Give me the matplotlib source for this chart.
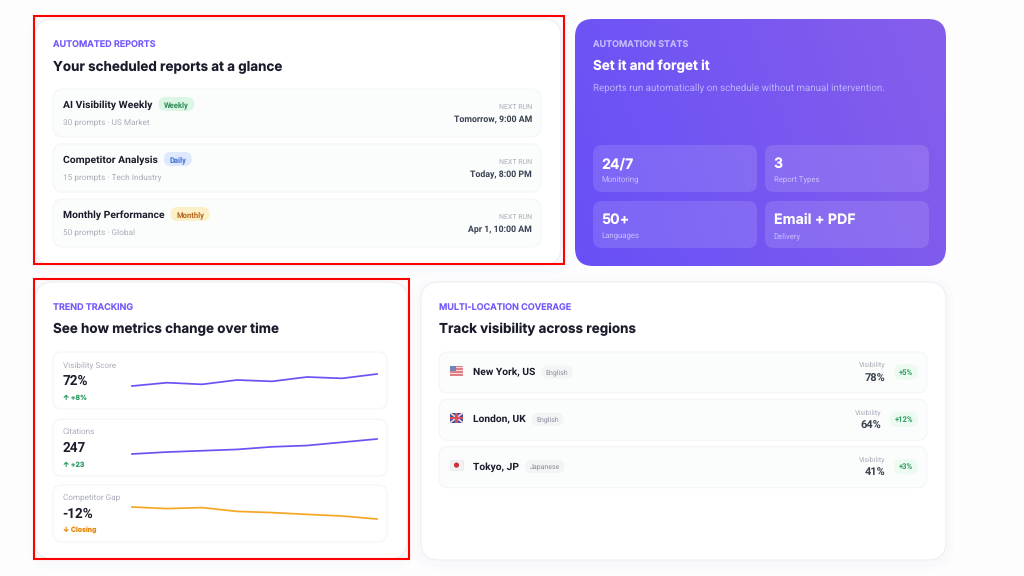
import numpy as np
import matplotlib
matplotlib.use('Agg')
import matplotlib.pyplot as plt
from matplotlib.patches import FancyBboxPatch, Rectangle, Circle

plt.rcParams['font.family'] = ['Inter', 'DejaVu Sans']
plt.rcParams['text.hinting'] = 'no_hinting'
plt.rcParams['text.hinting_factor'] = 8

# data
report_names = ['AI Visibility Weekly', 'Competitor Analysis', 'Monthly Performance']
report_tags = ['Weekly', 'Daily', 'Monthly']
report_meta = ['30 prompts · US Market', '15 prompts · Tech Industry', '50 prompts · Global']
report_runs = ['Tomorrow, 9:00 AM', 'Today, 8:00 PM', 'Apr 1, 10:00 AM']

stat_values = ['24/7', '3', '50+', 'Email + PDF']
stat_labels = ['Monitoring', 'Report Types', 'Languages', 'Delivery']

trend_names = ['Visibility Score', 'Citations', 'Competitor Gap']
trend_values = ['72%', '247', '-12%']
trend_changes = ['↑ +8%', '↑ +23', '↓ Closing']
visibility_series = [64, 66.2, 65.1, 68, 67.1, 70, 69.1, 72]
citations_series = [224, 227, 229, 231, 235, 237, 242, 247]
gap_series = [-6, -6.8, -6.3, -8.2, -8.8, -9.7, -10.5, -12]

cities = ['New York, US', 'London, UK', 'Tokyo, JP']
languages = ['English', 'English', 'Japanese']
city_visibility = ['78%', '64%', '41%']
city_change = ['+5%', '+12%', '+3%']

LABEL = '#7358fb'
DARK = '#1a1c2b'
GRAY = '#a9adb8'
PX = 0.72  # css px to pt at dpi 100
SMALL = ['Roboto', 'DejaVu Sans']

fig = plt.figure(figsize=(10.24, 5.76), dpi=100, facecolor='#fdfdfe')
ax = fig.add_axes([0, 0, 1, 1])
ax.set_xlim(0, 1024)
ax.set_ylim(576, 0)
ax.axis('off')
renderer = fig.canvas.get_renderer()


def box(x0, y0, x1, y1, r, fc, ec='none', lw=0.8, alpha=None, z=2):
    p = FancyBboxPatch((x0, y0), x1 - x0, y1 - y0, boxstyle='round,pad=0,rounding_size=%s' % r,
                       fc=fc, ec=ec, lw=lw, alpha=alpha, zorder=z)
    ax.add_patch(p)
    return p


def txt(x, y, s, px, color=DARK, weight='normal', ha='left', family=None):
    return ax.text(x, y, s, fontsize=px * PX, color=color, fontweight=weight, ha=ha,
                   va='baseline', zorder=5, family=family or SMALL)


def width(t):
    return t.get_window_extent(renderer).width


def head(x, y, label, title, label_color=LABEL, title_color=DARK):
    txt(x, y + 0.7, label, 9.0, label_color, 'semibold', family=['Inter'])
    txt(x, y + 23.3, title, 13.45, title_color, 'bold', family=['Inter'])


def card(x0, y0, x1, y1, label, title):
    for grow, a in [(8, 0.006), (4, 0.008)]:
        box(x0 - grow, y0 - grow + 3, x1 + grow, y1 + grow + 3, 18 + grow, '#5a5f8c', alpha=a, z=1)
    box(x0, y0, x1, y1, 18, 'white', '#f0f1f5', 1.0)
    head(x0 + 18, y0 + 28, label, title)


# --- scheduled reports
card(35, 19, 561, 265, 'AUTOMATED REPORTS', 'Your scheduled reports at a glance')
tag_styles = [('#dcf6e6', '#2f8a57'), ('#dfe9fd', '#3f6fd8'), ('#fdf0c8', '#b5651d')]
for i, name in enumerate(report_names):
    top = 89 + 55 * i
    box(53, top, 541, top + 48, 10, '#fbfcfc', '#f4f5f7')
    t = txt(63, top + 19, name, 10.4, DARK, 'bold')
    left = 63 + width(t) + 6
    tt = txt(left + 5.5, top + 18.5, report_tags[i], 7.6, tag_styles[i][1], 'bold')
    box(left, top + 8, left + width(tt) + 11, top + 22, 7, tag_styles[i][0], z=3)
    txt(63, top + 35.5, report_meta[i], 8.3, GRAY)
    txt(532, top + 21, 'NEXT RUN', 7.0, GRAY, ha='right')
    txt(532, top + 33, report_runs[i], 8.8, '#374151', 'bold', ha='right')

# --- purple stats card
panel = box(575, 19, 946, 266, 18, 'none', z=2)
xx, yy = np.meshgrid(np.linspace(0, 1, 200), np.linspace(0, 1, 130))
ramp = 1.0 - (xx * 0.8 + (1 - yy) * 0.2)
c0 = np.array([134, 94, 235]) / 255
c1 = np.array([104, 80, 247]) / 255
grad = c0 + (c1 - c0) * np.clip(ramp, 0, 1)[..., None]
im = ax.imshow(grad, extent=(575, 946, 266, 19), aspect='auto', zorder=2, interpolation='bilinear')
im.set_clip_path(panel)
ax.set_xlim(0, 1024)
ax.set_ylim(576, 0)
head(593, 47, 'AUTOMATION STATS', 'Set it and forget it', '#c5bcfb', 'white')
txt(593, 91, 'Reports run automatically on schedule without manual intervention.', 9.75, '#bdb2fb')
for i, val in enumerate(stat_values):
    col, row = i % 2, i // 2
    x0 = 593 + 172 * col
    y0 = 145 + 56 * row
    box(x0, y0, x0 + 164, y0 + 47, 9, 'white', alpha=0.12, z=3)
    txt(x0 + 8.5, y0 + 23, val, 14.2, 'white', 'bold', family=['Inter'])
    txt(x0 + 8.5, y0 + 37, stat_labels[i], 7.8, '#c8c0fb')

# --- trend tracking
card(35, 282, 407, 559, 'TREND TRACKING', 'See how metrics change over time')
trend_series = [visibility_series, citations_series, gap_series]
change_colors = ['#2f9e63', '#2f9e63', '#e58a0c']
line_colors = ['#6a52f5', '#6a52f5', '#f5a623']
spans = [(374, 386), (439, 454), (507, 519)]
for i, name in enumerate(trend_names):
    top = 352 + 67 * i - (1 if i == 2 else 0)
    box(53, top, 387, top + 57, 9, 'white', '#f4f5f7')
    txt(63, top + 15, name, 8.2, GRAY)
    txt(62.5, top + 33, trend_values[i], 13.5, DARK, 'bold')
    txt(63, top + 47.5, trend_changes[i], 6.9, change_colors[i], 'bold', family=['Inter', 'DejaVu Sans'])
    # sparkline with its own scales
    y_top, y_bot = spans[i]
    sp = fig.add_axes([132 / 1024, 1 - y_bot / 576, (377 - 132) / 1024, (y_bot - y_top) / 576])
    sp.plot(range(len(trend_series[i])), trend_series[i], color=line_colors[i], lw=1.25,
            clip_on=False, solid_joinstyle='round')
    sp.set_xlim(0, len(trend_series[i]) - 1)
    sp.set_ylim(min(trend_series[i]), max(trend_series[i]))
    sp.axis('off')


def flag(kind, x0, y0):
    w, h = 13, 10
    if kind == 0:
        for s in range(7):
            ax.add_patch(Rectangle((x0, y0 + s * h / 7), w, h / 7, fc='#df7f85' if s % 2 == 0 else '#f3d9db', ec='none', zorder=4))
        ax.add_patch(Rectangle((x0, y0), 6, 5, fc='#6f86b8', ec='none', zorder=4))
    elif kind == 1:
        ax.add_patch(Rectangle((x0, y0), w, h, fc='#3e4f98', ec='none', zorder=4))
        ax.plot([x0, x0 + w], [y0, y0 + h], color='#f3d6da', lw=1.2, zorder=4, solid_capstyle='butt')
        ax.plot([x0, x0 + w], [y0 + h, y0], color='#f3d6da', lw=1.2, zorder=4, solid_capstyle='butt')
        ax.add_patch(Rectangle((x0 + 5, y0), 3, h, fc='#d8505c', ec='none', zorder=4))
        ax.add_patch(Rectangle((x0, y0 + 3.7), w, 2.6, fc='#d8505c', ec='none', zorder=4))
    else:
        ax.add_patch(Rectangle((x0, y0), w, h, fc='#f2f2f3', ec='#e4e4e6', lw=0.4, zorder=4))
        ax.add_patch(Circle((x0 + w / 2, y0 + h / 2), 2.6, fc='#cf2e3c', ec='none', zorder=5))


# --- multi location
card(421, 282, 946, 560, 'MULTI-LOCATION COVERAGE', 'Track visibility across regions')
for i, city in enumerate(cities):
    top = 352 + 47.3 * i
    box(439, top, 927, top + 41, 9, '#fbfcfc', '#f4f5f7')
    flag(i, 450, top + 13.5)
    t = txt(473, top + 23, city, 10.3, DARK, 'bold')
    left = 473 + width(t) + 6
    tt = txt(left + 4.5, top + 22.5, languages[i], 7.0, '#8b8f9b')
    box(left, top + 13.5, left + width(tt) + 9, top + 26.5, 6.5, '#f3f4f6', z=3)
    bt = txt(913, top + 22.5, city_change[i], 7.6, '#2f9e63', 'bold', ha='right')
    b_left = 918 - width(bt) - 10
    box(b_left, top + 12.5, 918, top + 27.5, 7.5, '#ecfaf2', z=3)
    txt(b_left - 8, top + 15, 'Visibility', 7.2, GRAY, ha='right')
    txt(b_left - 8, top + 29.5, city_visibility[i], 11, '#374151', 'bold', ha='right')

# --- the two red marker boxes
ax.add_patch(Rectangle((33.5, 16), 530, 248, fc='none', ec='#ff0000', lw=1.5, zorder=8))
ax.add_patch(Rectangle((33.5, 279), 375, 279.5, fc='none', ec='#ff0000', lw=1.5, zorder=8))

fig.savefig('out.png', dpi=100, facecolor=fig.get_facecolor())
